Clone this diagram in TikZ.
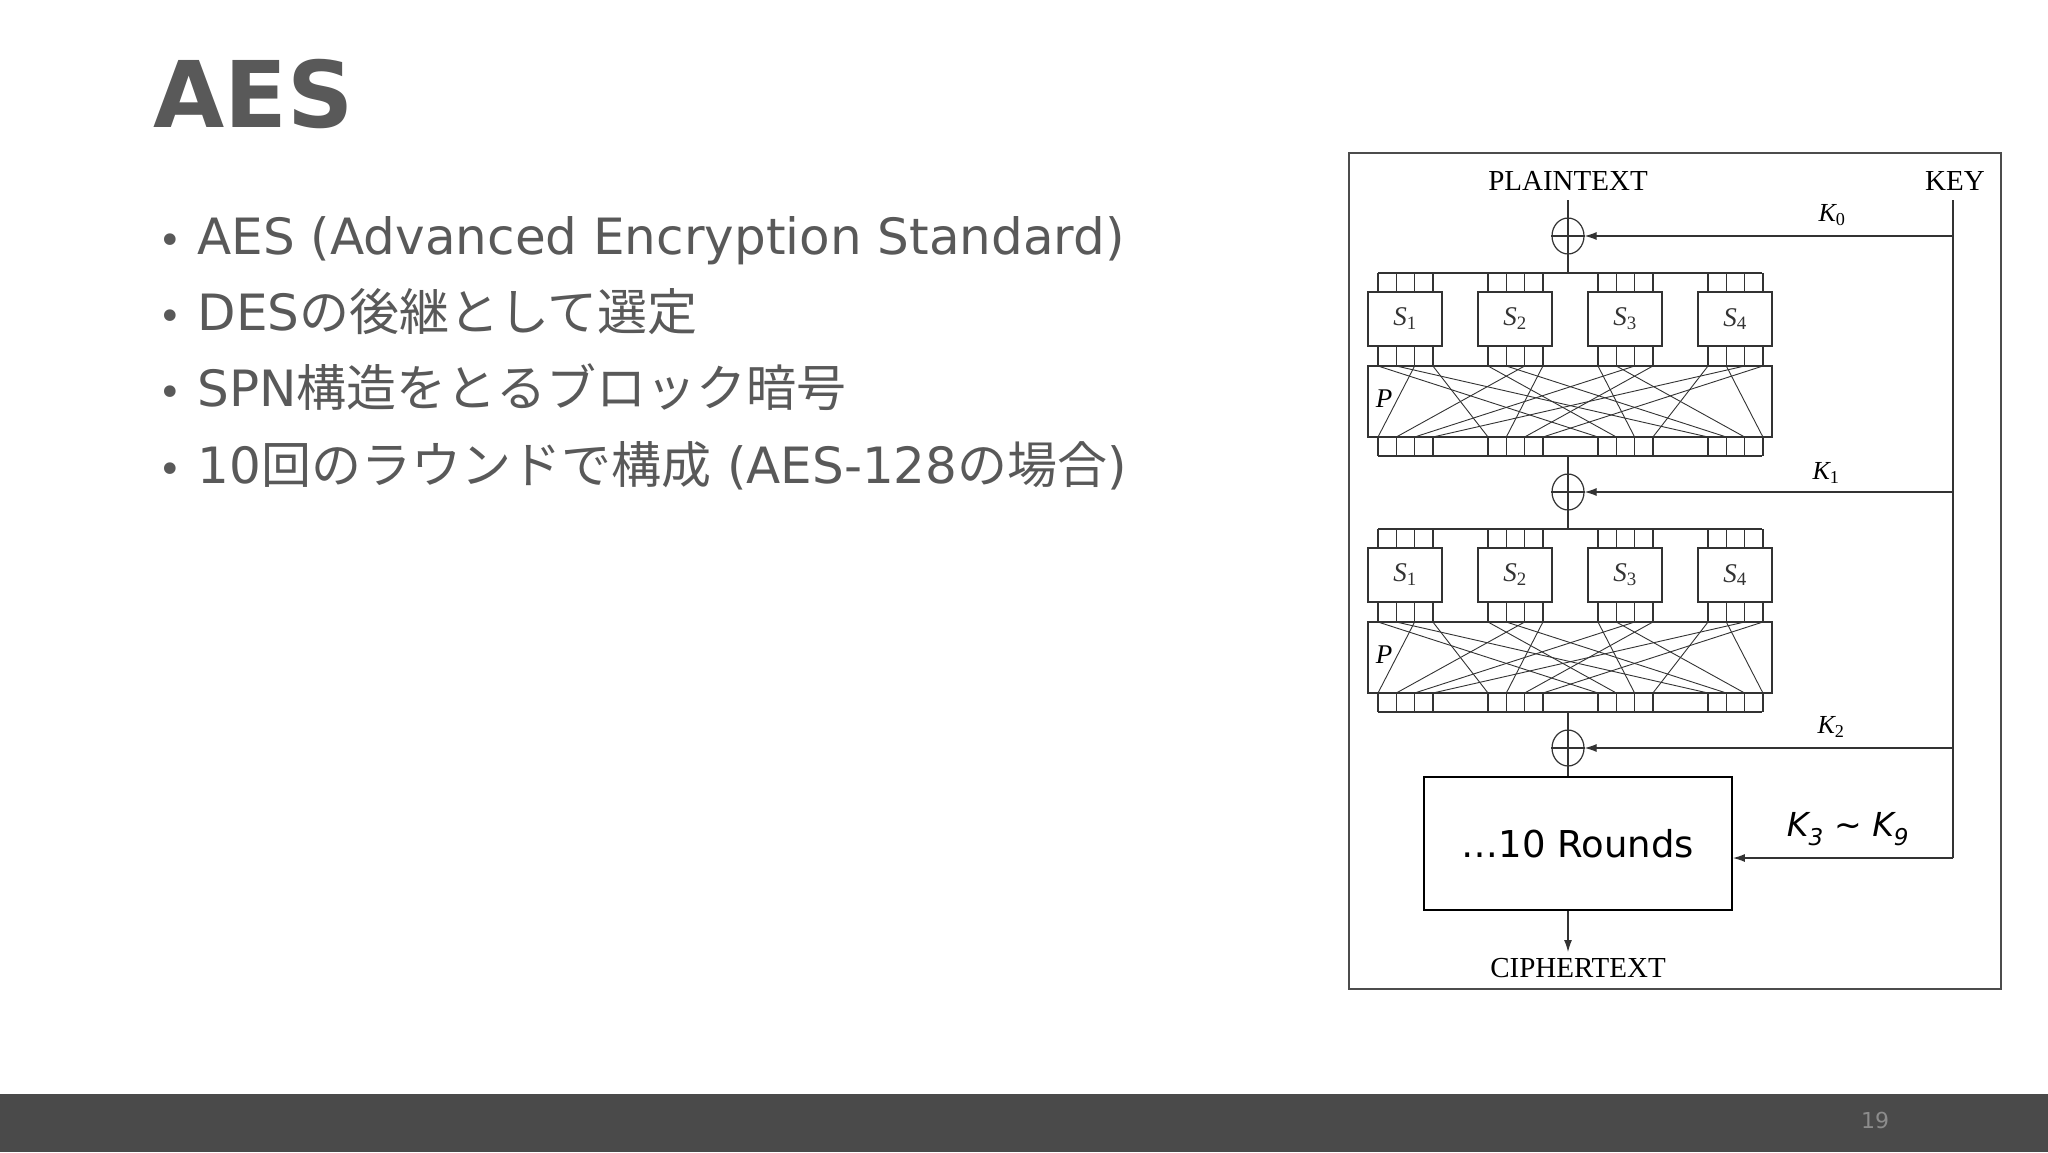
\documentclass[tikz,border=0pt]{standalone}
\usepackage{fontspec}
\setmainfont{Liberation Serif}
\newfontfamily\sans{DejaVu Sans}
\newfontfamily\jp{Noto Sans CJK JP}
\usetikzlibrary{arrows.meta,shapes.geometric}
\definecolor{txt}{HTML}{595959}
\definecolor{bar}{HTML}{4A4A4A}
\begin{document}
\begin{tikzpicture}[x=1pt,y=-1pt,
  w/.style={line width=1.2pt,black!80},
  arr/.style={w,-{Latex[length=12pt,width=8pt]}},
  sbox/.style={draw,w,minimum width=74pt,minimum height=54pt,inner sep=0pt,font=\fontsize{27}{27}\selectfont\itshape},
  bul/.style={anchor=base west,text=txt,font=\sans\fontsize{50}{50}\selectfont},
  dot/.style={anchor=base west,text=txt,font=\sans\fontsize{40}{40}\selectfont},
  lab/.style={font=\fontsize{29}{29}\selectfont},
  klab/.style={font=\fontsize{26}{26}\selectfont\itshape}]
\useasboundingbox (0,0) rectangle (2048,1152);
\fill[white] (0,0) rectangle (2048,1152);
\fill[bar] (0,1094) rectangle (2048,1152);
\node[text=black!45,font=\sans\fontsize{22}{22}\selectfont] (pg) at (1875,1120) {19};
\node[anchor=base west,text=txt,font=\sans\bfseries\fontsize{92}{92}\selectfont] (title) at (150,127) {AES};
\foreach \y/\t [count=\i] in {254/{AES (Advanced Encryption Standard)},330/{DES{\jp の後継として選定}},406/{SPN{\jp 構造をとるブロック暗号}},483/{10{\jp 回のラウンドで構成} (AES-128{\jp の場合})}}{
  \node[dot] (d\i) at (155,\y) {•};
  \node[bul] (b\i) at (194,\y) {\t};
}
% diagram frame
\draw[line width=1.4pt,black!70] (1349,153) rectangle (2001,989);
\node[lab] (pt) at (1568,181) {PLAINTEXT};
\node[lab] (key) at (1955,181) {KEY};
\coordinate (kt) at (1953,200);
\coordinate (kb) at (1953,858);
\draw[w] (kt) -- (kb);
% xors
\foreach \n/\y in {0/236,1/492,2/748}{
  \node[draw,w,ellipse,minimum width=32pt,minimum height=36pt,inner sep=0pt] (x\n) at (1568,\y) {};
  \draw[w] (x\n.north) -- (x\n.south) (x\n.west) -- (x\n.east);
  \coordinate (k\n) at (1953,\y);
  \draw[arr] (k\n) -- (x\n.east);
}
\node[klab] (l0) at (1832,215) {K\textsubscript{\upshape 0}};
\node[klab] (l1) at (1826,473) {K\textsubscript{\upshape 1}};
\node[klab] (l2) at (1831,727) {K\textsubscript{\upshape 2}};
\draw[w] (1568,200) -- (x0.north);
% rounds
\foreach \r/\o in {1/0,2/256}{
  \begin{scope}[yshift=-\o pt]
  \draw[w] (1378,273) -- (1762,273) (1378,456) -- (1762,456);
  \foreach \j in {0,...,3}{
    \pgfmathtruncatemacro\jj{\j+1}
    \node[sbox] (s\r\j) at ({1405+110*\j},319) {S\textsubscript{\upshape\jj}};
    \foreach \i in {0,...,3}{
      \pgfmathsetmacro\xx{1378+110*\j+18.3*\i}
      \draw[w] (\xx,273) -- (\xx,292) (\xx,346) -- (\xx,366) (\xx,437) -- (\xx,456);
      \pgfmathtruncatemacro\tgt{4*mod(\i+2,4)+\j}
      \pgfmathsetmacro\tx{1378+110*int(\tgt/4)+18.3*mod(\tgt,4)}
      \draw[line width=0.9pt,black!80] (\xx,366) -- (\tx,437);
    }
  }
  \node[draw,w,minimum width=404pt,minimum height=71pt,inner sep=0pt] (p\r) at (1570,401.5) {};
  \node[lab,font=\fontsize{27}{27}\selectfont\itshape] (pl\r) at (1384,399) {P};
  \end{scope}
}
\draw[w] (x0.south) -- (1568,273);
\draw[w] (1568,456) -- (x1.north);
\draw[w] (x1.south) -- (1568,529);
\draw[w] (1568,712) -- (x2.north);
\node[draw,line width=1.8pt,minimum width=308pt,minimum height=133pt,inner sep=0pt,font=\sans\fontsize{37}{37}\selectfont] (rb) at (1578,843.5) {…10 Rounds};
\draw[w] (x2.south) -- (rb.north -| x2.south);
\draw[arr] (kb) -- (rb.east |- kb);
\node[font=\sans\itshape\fontsize{33}{33}\selectfont] (l39) at (1848,829) {K\textsubscript{3} \textasciitilde{} K\textsubscript{9}};
\coordinate (ct) at (1568,952);
\draw[arr] (rb.south -| ct) -- (ct);
\node[lab] (cipher) at (1578,968) {CIPHERTEXT};
\end{tikzpicture}
\end{document}
